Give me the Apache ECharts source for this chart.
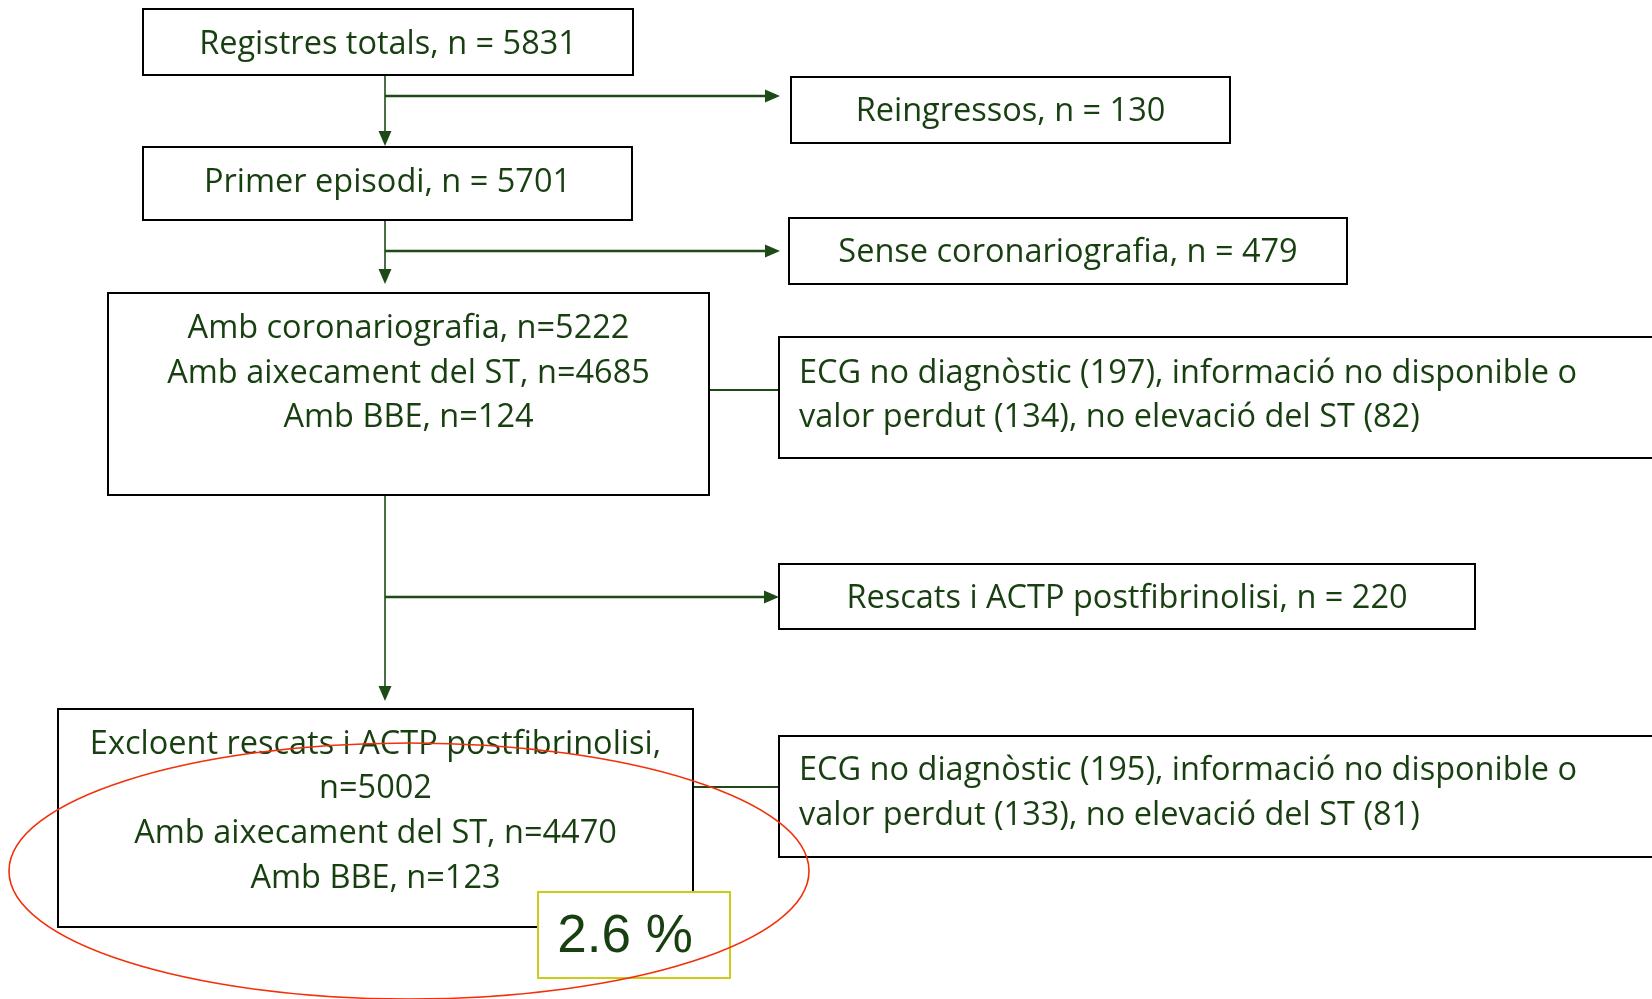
<!DOCTYPE html>
<html>
<head>
<meta charset="utf-8">
<script src="https://cdn.jsdelivr.net/npm/echarts@6/dist/echarts.min.js"></script>
<style>
  html, body { margin: 0; padding: 0; background: #fff; }
  #chart { width: 1652px; height: 999px; }
</style>
</head>
<body>
<div id="chart"></div>
<script>
// textos del diagrama
const mainSteps = [
  ['Registres totals, n = 5831'],
  ['Primer episodi, n = 5701'],
  ['Amb coronariografia, n=5222', 'Amb aixecament del ST, n=4685', 'Amb BBE, n=124'],
  ['Excloent rescats i ACTP postfibrinolisi,', 'n=5002', 'Amb aixecament del ST, n=4470', 'Amb BBE, n=123']
]
const exclusions = ['Reingressos, n = 130', 'Sense coronariografia, n = 479', 'Rescats i ACTP postfibrinolisi, n = 220']
const missingNotes = [
  ['ECG no diagnòstic (197), informació no disponible o', 'valor perdut (134), no elevació del ST (82)'],
  ['ECG no diagnòstic (195), informació no disponible o', 'valor perdut (133), no elevació del ST (81)']
]
const highlight = '2.6 %'

// layout (page pixels): [x0, y0, x1, y1]
const mainBoxes = [[143, 9, 633, 75], [143, 147, 632, 220], [108, 293, 709, 495], [58, 709, 693, 927]]
const mainTextY = [[45], [183], [329, 374, 418], [745, 789, 834, 879]]
const exclBoxes = [[791, 77, 1230, 143], [789, 218, 1347, 284], [779, 564, 1475, 629]]
const noteBoxes = [[779, 337, 1662, 458], [779, 736, 1662, 857]]
const noteTextY = [[374, 418], [771, 816]]
const arrows = [[385, 75, 385, 146], [385, 96, 780, 96], [385, 220, 385, 284], [385, 251, 780, 251], [385, 495, 385, 701], [385, 597, 779, 597]]
const connectors = [[709, 390, 779, 390], [693, 787, 779, 787]]
const hlBox = [[538, 892, 730, 978]]
const ring = [[409, 871, 400, 128]]

const textColor = '#173f10'
const lineColor = '#1d4a17'
const fontFamily = '"Open Sans", "Noto Sans", sans-serif'
const fontSize = 32.5

const chart = echarts.init(document.getElementById('chart'))

function boxItem(api, lines, ys, align) {
  const p0 = api.coord([api.value(0), api.value(1)])
  const p1 = api.coord([api.value(2), api.value(3)])
  const children = [{
    type: 'rect',
    shape: { x: p0[0], y: p0[1], width: p1[0] - p0[0], height: p1[1] - p0[1] },
    style: { fill: '#fff', stroke: '#000', lineWidth: 2 }
  }]
  lines.forEach((t, i) => {
    const y = ys ? api.coord([0, ys[i]])[1] : (p0[1] + p1[1]) / 2 + 2
    children.push({
      type: 'text',
      style: {
        text: t,
        x: align === 'left' ? p0[0] + 20 : (p0[0] + p1[0]) / 2,
        y: y,
        fill: textColor,
        fontSize: fontSize,
        fontFamily: fontFamily,
        align: align || 'center',
        verticalAlign: 'middle'
      }
    })
  })
  return { type: 'group', children }
}

chart.setOption({
  animation: false,
  grid: { left: 0, right: 0, top: 0, bottom: 0 },
  xAxis: { type: 'value', min: 0, max: 1652, show: false },
  yAxis: { type: 'value', min: 0, max: 999, inverse: true, show: false },
  series: [
    {
      // fletxes
      type: 'custom',
      z: 1,
      data: arrows,
      renderItem(params, api) {
        const a = api.coord([api.value(0), api.value(1)])
        const b = api.coord([api.value(2), api.value(3)])
        const vertical = a[0] === b[0]
        const head = 15, half = 6.5
        const base = vertical ? [b[0], b[1] - head] : [b[0] - head, b[1]]
        const tri = vertical
          ? [[b[0] - half, base[1]], [b[0] + half, base[1]], b]
          : [[base[0], b[1] - half], [base[0], b[1] + half], b]
        return {
          type: 'group',
          children: [
            { type: 'line', shape: { x1: a[0], y1: a[1], x2: base[0], y2: base[1] }, style: { stroke: lineColor, lineWidth: vertical ? 1.6 : 2.4 } },
            { type: 'polygon', shape: { points: tri }, style: { fill: lineColor } }
          ]
        }
      }
    },
    {
      type: 'custom',
      z: 1,
      data: connectors,
      renderItem(params, api) {
        const a = api.coord([api.value(0), api.value(1)])
        const b = api.coord([api.value(2), api.value(3)])
        return { type: 'line', shape: { x1: a[0], y1: a[1], x2: b[0], y2: b[1] }, style: { stroke: lineColor, lineWidth: 2 } }
      }
    },
    {
      type: 'custom',
      z: 2,
      data: mainBoxes,
      renderItem(params, api) {
        return boxItem(api, mainSteps[params.dataIndex], mainTextY[params.dataIndex], 'center')
      }
    },
    {
      type: 'custom',
      z: 2,
      data: exclBoxes,
      renderItem(params, api) {
        return boxItem(api, [exclusions[params.dataIndex]], null, 'center')
      }
    },
    {
      type: 'custom',
      z: 2,
      data: noteBoxes,
      renderItem(params, api) {
        return boxItem(api, missingNotes[params.dataIndex], noteTextY[params.dataIndex], 'left')
      }
    },
    {
      // 2.6 %
      type: 'custom',
      z: 3,
      data: hlBox,
      renderItem(params, api) {
        const p0 = api.coord([api.value(0), api.value(1)])
        const p1 = api.coord([api.value(2), api.value(3)])
        return {
          type: 'group',
          children: [
            { type: 'rect', shape: { x: p0[0], y: p0[1], width: p1[0] - p0[0], height: p1[1] - p0[1] }, style: { fill: '#fff', stroke: '#cccc1a', lineWidth: 2 } },
            { type: 'text', style: { text: highlight, x: p0[0] + 87, y: (p0[1] + p1[1]) / 2 + 2, fill: textColor, fontSize: 53, fontFamily: '"Liberation Sans", Arial, sans-serif', align: 'center', verticalAlign: 'middle' } }
          ]
        }
      }
    },
    {
      type: 'custom',
      z: 4,
      data: ring,
      renderItem(params, api) {
        const c = api.coord([api.value(0), api.value(1)])
        return {
          type: 'ellipse',
          shape: { cx: c[0], cy: c[1], rx: api.value(2), ry: api.value(3) },
          style: { fill: 'none', stroke: '#f2300a', lineWidth: 1.6 }
        }
      }
    }
  ]
})
</script>
</body>
</html>
